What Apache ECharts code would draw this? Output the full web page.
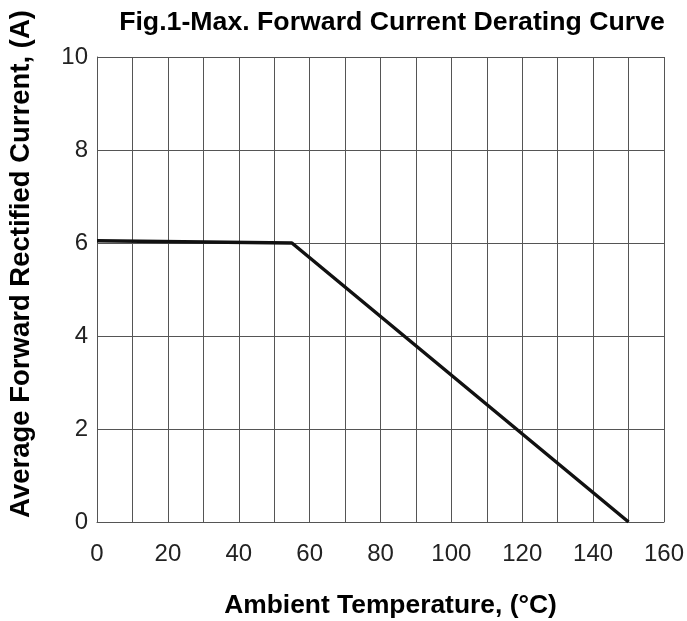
<!DOCTYPE html>
<html><head><meta charset="utf-8">
<script src="https://cdn.jsdelivr.net/npm/echarts@6/dist/echarts.min.js"></script>
<style>html,body{margin:0;padding:0;background:#fff}#c{width:687px;height:621px}</style>
</head><body><div id="c"></div>
<script>
const titleText = 'Fig.1-Max. Forward Current Derating Curve';
const xName = 'Ambient Temperature, (°C)';
const yName = 'Average Forward Rectified Current, (A)';
const temps = [0, 55, 150];
const currents = [6.05, 6.0, 0];
const xLabels = ['0','20','40','60','80','100','120','140','160'];
const yLabels = ['0','2','4','6','8','10'];

const chart = echarts.init(document.getElementById('c'));
const tickFont = {fontFamily:'Liberation Sans, Arial, sans-serif', fontSize:24, color:'#222'};
const bold = (s) => ({fontFamily:'Liberation Sans, Arial, sans-serif', fontWeight:'bold', fontSize:s, color:'#000'});
chart.setOption({
  animation:false,
  title:{text:titleText, left:387, top:4, textAlign:'center', textStyle:bold(26.7)},
  grid:{left:97, right:23, top:57, bottom:99, containLabel:false, outerBoundsMode:'none'},
  xAxis:{type:'value', min:0, max:160, interval:10,
    name:xName, nameLocation:'middle', nameGap:71,
    nameTextStyle:Object.assign({padding:[0,0,0,20]}, bold(26.4)),
    axisLine:{show:true, lineStyle:{color:'#555', width:1}},
    axisTick:{show:false},
    axisLabel:Object.assign({margin:20, formatter:v => (v%20===0 ? xLabels[v/20] : '')}, tickFont),
    splitLine:{show:true, lineStyle:{color:'#555', width:1}}
  },
  yAxis:{type:'value', min:0, max:10, interval:2,
    name:yName, nameLocation:'middle', nameGap:62,
    nameTextStyle:Object.assign({padding:[0,0,0,51]}, bold(27.5)),
    axisLine:{show:true, lineStyle:{color:'#555', width:1}},
    axisTick:{show:false},
    axisLabel:Object.assign({margin:9, padding:[4,0,0,0], formatter:v => yLabels[v/2]}, tickFont),
    splitLine:{show:true, lineStyle:{color:'#555', width:1}}
  },
  series:[{type:'line', data:temps.map((t,i)=>[t,currents[i]]), symbol:'none',
    lineStyle:{color:'#111', width:3.5}}]
});
</script></body></html>
